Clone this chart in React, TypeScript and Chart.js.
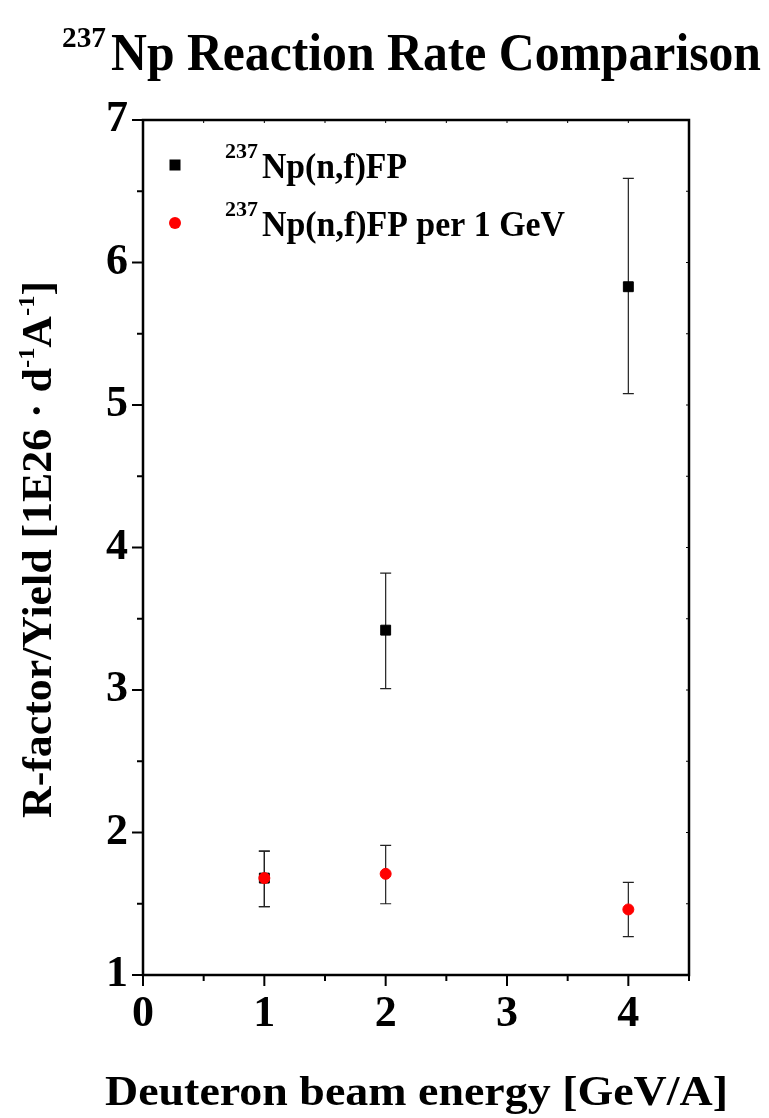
import React, { useEffect, useRef } from 'react';
import { Chart, registerables } from 'chart.js';

Chart.register(...registerables);

// ---- data ----
const energies = [1, 2, 4];
const npRate = [1.68, 3.42, 5.83];
const npErrLow = [1.48, 3.01, 5.08];
const npErrHigh = [1.87, 3.82, 6.59];
const perGeVRate = [1.68, 1.71, 1.46];
const perGeVErrLow = [1.48, 1.5, 1.27];
const perGeVErrHigh = [1.87, 1.91, 1.65];

const seriesNames = ['Np(n,f)FP', 'Np(n,f)FP per 1 GeV'];
const isotope = '237';
const titleText = 'Np Reaction Rate Comparison';
const xTitle = 'Deuteron beam energy [GeV/A]';
const yTitleParts = ['R-factor/Yield [1E26 · d', '-1', 'A', '-1', ']'];

const FONT = '"Liberation Serif", "Times New Roman", serif';

type Seg = { t: string; size: number; rise: number; gap?: number };

function drawSegs(ctx: CanvasRenderingContext2D, segs: Seg[], x: number, y: number, width: number) {
  ctx.save();
  let natural = 0;
  const widths: number[] = [];
  for (const s of segs) {
    ctx.font = `bold ${s.size}px ${FONT}`;
    const w = ctx.measureText(s.t).width;
    widths.push(w);
    natural += w + (s.gap || 0);
  }
  const sx = width / natural;
  ctx.translate(x, y);
  ctx.scale(sx, 1);
  ctx.fillStyle = '#000';
  ctx.textBaseline = 'alphabetic';
  ctx.textAlign = 'left';
  let cx = 0;
  segs.forEach((s, i) => {
    ctx.font = `bold ${s.size}px ${FONT}`;
    ctx.fillText(s.t, cx, -s.rise);
    cx += widths[i] + (s.gap || 0);
  });
  ctx.restore();
}

const errorBarPlugin = {
  id: 'errorBars',
  beforeDatasetsDraw(chart: any) {
    const { ctx } = chart;
    const xs = chart.scales.x;
    const ys = chart.scales.y;
    chart.data.datasets.forEach((ds: any) => {
      ctx.save();
      ctx.strokeStyle = '#222';
      ctx.lineWidth = 1.2;
      ds.data.forEach((p: any, i: number) => {
        const px = xs.getPixelForValue(p.x);
        const lo = ys.getPixelForValue(ds.errLow[i]);
        const hi = ys.getPixelForValue(ds.errHigh[i]);
        ctx.beginPath();
        ctx.moveTo(px, lo);
        ctx.lineTo(px, hi);
        ctx.moveTo(px - 5.5, lo);
        ctx.lineTo(px + 5.5, lo);
        ctx.moveTo(px - 5.5, hi);
        ctx.lineTo(px + 5.5, hi);
        ctx.stroke();
      });
      ctx.restore();
    });
  },
};

const decorPlugin = {
  id: 'decor',
  afterDraw(chart: any) {
    const { ctx, chartArea: a } = chart;
    const xs = chart.scales.x;
    const ys = chart.scales.y;
    ctx.save();
    // frame
    ctx.strokeStyle = '#000';
    ctx.lineWidth = 2.5;
    ctx.strokeRect(a.left, a.top, a.right - a.left, a.bottom - a.top);
    // x ticks
    ctx.lineWidth = 2;
    xs.ticks.forEach((t: any) => {
      const px = xs.getPixelForValue(t.value);
      const major = Number.isInteger(t.value);
      ctx.beginPath();
      ctx.moveTo(px, a.bottom);
      ctx.lineTo(px, a.bottom + (major ? 11 : 6));
      ctx.stroke();
    });
    ys.ticks.forEach((t: any) => {
      const py = ys.getPixelForValue(t.value);
      const major = Number.isInteger(t.value);
      ctx.beginPath();
      ctx.moveTo(a.left, py);
      ctx.lineTo(a.left - (major ? 11 : 6), py);
      ctx.stroke();
    });
    // small mirrored ticks on top / right
    ctx.lineWidth = 1;
    xs.ticks.forEach((t: any) => {
      const px = xs.getPixelForValue(t.value);
      ctx.beginPath();
      ctx.moveTo(px, a.top);
      ctx.lineTo(px, a.top + 3);
      ctx.stroke();
    });
    ys.ticks.forEach((t: any) => {
      const py = ys.getPixelForValue(t.value);
      ctx.beginPath();
      ctx.moveTo(a.right, py);
      ctx.lineTo(a.right - 3, py);
      ctx.stroke();
    });

    // title
    drawSegs(ctx, [{ t: isotope, size: 29, rise: 0 }], 62, 47, 44);
    drawSegs(ctx, [{ t: titleText, size: 53, rise: 0 }], 111, 70, 650);

    // x title
    drawSegs(ctx, [{ t: xTitle, size: 42, rise: 0 }], 105, 1105, 623);

    // y title (rotated)
    ctx.save();
    ctx.translate(51, 818);
    ctx.rotate(-Math.PI / 2);
    drawSegs(
      ctx,
      [
        { t: yTitleParts[0], size: 43, rise: 0 },
        { t: yTitleParts[1], size: 24, rise: 17 },
        { t: yTitleParts[2], size: 43, rise: 0 },
        { t: yTitleParts[3], size: 24, rise: 17 },
        { t: yTitleParts[4], size: 43, rise: 0 },
      ],
      0,
      0,
      537
    );
    ctx.restore();

    // legend
    const ds0 = chart.data.datasets[0];
    const ds1 = chart.data.datasets[1];
    ctx.fillStyle = ds1.backgroundColor;
    ctx.fillRect(175 - 5.5, 165 - 5.5, 11, 11);
    ctx.fillStyle = ds0.backgroundColor;
    ctx.beginPath();
    ctx.arc(175, 223, 6, 0, Math.PI * 2);
    ctx.fill();
    drawSegs(ctx, [{ t: isotope, size: 21, rise: 0 }], 225, 158, 33);
    drawSegs(ctx, [{ t: seriesNames[0], size: 35, rise: 0 }], 262, 178, 145);
    drawSegs(ctx, [{ t: isotope, size: 21, rise: 0 }], 225, 216, 33);
    drawSegs(ctx, [{ t: seriesNames[1], size: 35, rise: 0 }], 262, 236, 303);
    ctx.restore();
  },
};

export default function App() {
  const ref = useRef<HTMLCanvasElement | null>(null);
  useEffect(() => {
    if (!ref.current) return;
    const chart = new Chart(ref.current, {
      type: 'scatter',
      data: {
        datasets: [
          {
            label: seriesNames[1],
            data: energies.map((x, i) => ({ x, y: perGeVRate[i] })),
            errLow: perGeVErrLow,
            errHigh: perGeVErrHigh,
            pointStyle: 'circle',
            pointRadius: 5.5,
            borderWidth: 1,
            backgroundColor: '#ff0000',
            borderColor: '#ff0000',
            order: 0,
          } as any,
          {
            label: seriesNames[0],
            data: energies.map((x, i) => ({ x, y: npRate[i] })),
            errLow: npErrLow,
            errHigh: npErrHigh,
            pointStyle: 'rect',
            pointRadius: 7,
            borderWidth: 1,
            backgroundColor: '#000000',
            borderColor: '#000000',
            order: 1,
          } as any,
        ],
      },
      options: {
        responsive: false,
        animation: false,
        devicePixelRatio: 1,
        layout: { padding: { top: 120, right: 80, left: 0, bottom: 0 } },
        plugins: {
          legend: { display: false },
          title: { display: false },
          tooltip: { enabled: false },
        },
        scales: {
          x: {
            type: 'linear',
            min: 0,
            max: 4.5,
            grid: { display: false, drawTicks: false },
            border: { display: false },
            ticks: {
              stepSize: 0.5,
              autoSkip: false,
              maxRotation: 0,
              minRotation: 0,
              padding: 13,
              color: '#000',
              font: { family: FONT, size: 44, weight: 'bold' },
              callback: (v: any) => (Number.isInteger(v) ? String(v) : ''),
            },
            afterFit: (s: any) => {
              s.height = 143;
            },
          },
          y: {
            type: 'linear',
            min: 1,
            max: 7,
            grid: { display: false, drawTicks: false },
            border: { display: false },
            ticks: {
              stepSize: 0.5,
              autoSkip: false,
              padding: 15,
              color: '#000',
              font: { family: FONT, size: 44, weight: 'bold' },
              callback: (v: any) => (Number.isInteger(v) ? String(v) : ''),
            },
            afterFit: (s: any) => {
              s.width = 143;
            },
          },
        },
      },
      plugins: [errorBarPlugin, decorPlugin],
    } as any);
    return () => chart.destroy();
  }, []);
  return (
    <div style={{ position: 'absolute', left: 0, top: 0, width: 769, height: 1118, background: '#fff' }}>
      <canvas ref={ref} width={769} height={1118} style={{ display: 'block' }} />
    </div>
  );
}
